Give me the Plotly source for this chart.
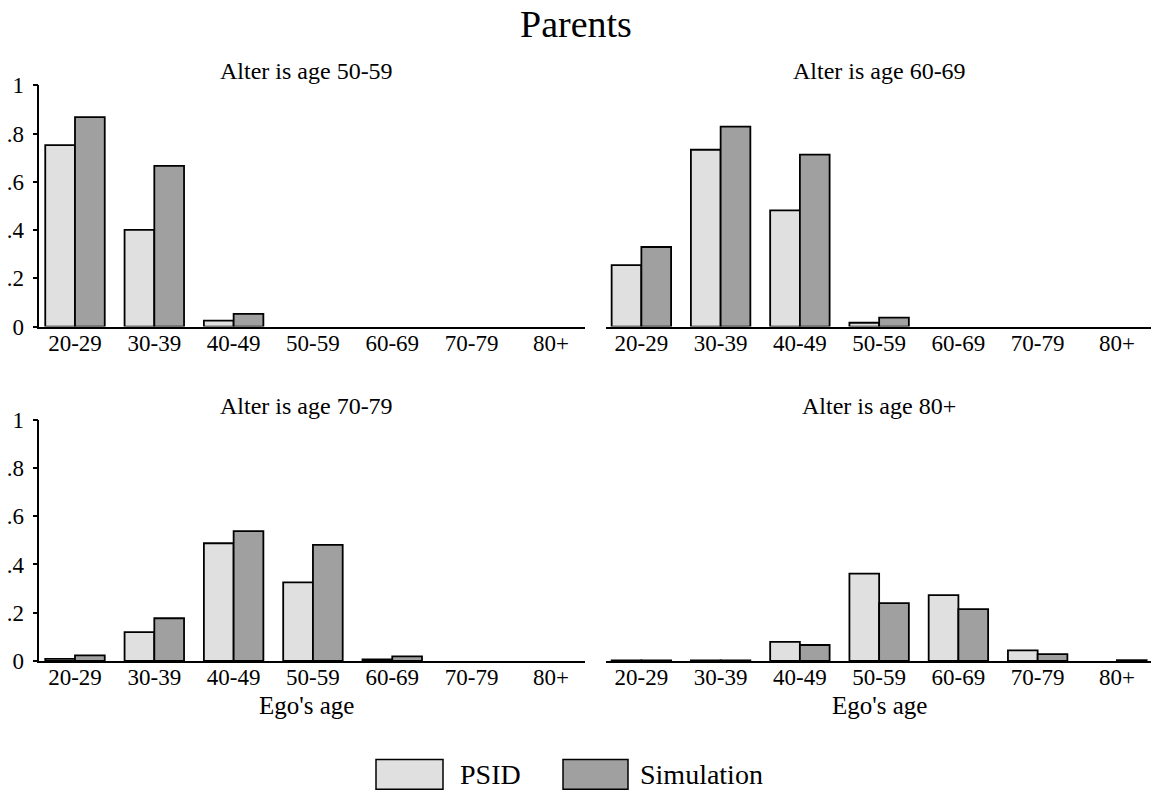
import plotly.graph_objects as go

age_groups = ["20-29", "30-39", "40-49", "50-59", "60-69", "70-79", "80+"]
panel_titles = ["Alter is age 50-59", "Alter is age 60-69", "Alter is age 70-79", "Alter is age 80+"]

psid_50_59 = [0.752, 0.401, 0.025, 0, 0, 0, 0]
sim_50_59 = [0.868, 0.666, 0.053, 0, 0, 0, 0]
psid_60_69 = [0.255, 0.733, 0.482, 0.016, 0, 0, 0]
sim_60_69 = [0.330, 0.829, 0.713, 0.037, 0, 0, 0]
psid_70_79 = [0.008, 0.119, 0.488, 0.326, 0.006, 0, 0]
sim_70_79 = [0.023, 0.177, 0.538, 0.481, 0.019, 0, 0]
psid_80p = [0.002, 0.002, 0.079, 0.362, 0.273, 0.044, 0]
sim_80p = [0.002, 0.002, 0.066, 0.240, 0.215, 0.028, 0.003]

y_tick_vals = [0, 0.2, 0.4, 0.6, 0.8, 1]
y_tick_text = ["0", ".2", ".4", ".6", ".8", "1"]

series_names = ["PSID", "Simulation"]
series_colors = ["#e0e0e0", "#a0a0a0"]

W, H = 1151, 804
FONT = "Liberation Serif, Times New Roman, serif"


def fx(px):
    return px / W


def fy(py):
    # empirical correction for vertical placement
    py = (py - 13) / 0.971
    return 1 - py / H


x_dom_px = [(39.3, 585.0), (605.7, 1151.0)]
y_dom_px = [(86.5, 328.3), (421.7, 663.3)]
title_dx = [-6, 1]

panels = [
    (psid_50_59, sim_50_59, 0, 0),
    (psid_60_69, sim_60_69, 0, 1),
    (psid_70_79, sim_70_79, 1, 0),
    (psid_80p, sim_80p, 1, 1),
]

fig = go.Figure()
layout_axes = {}
annotations = []
for i, (ps, sm, r, c) in enumerate(panels):
    n = i + 1
    xa = "x" if n == 1 else f"x{n}"
    ya = "y" if n == 1 else f"y{n}"
    for vals, name, col in zip([ps, sm], series_names, series_colors):
        fig.add_trace(go.Bar(
            x=age_groups, y=[v if v else None for v in vals], name=name,
            xaxis=xa, yaxis=ya,
            marker=dict(color=col, line=dict(color="black", width=1.8)),
            showlegend=False, offsetgroup=name,
        ))
    x0, x1 = x_dom_px[c]
    ytop, ybot = y_dom_px[r]
    layout_axes["xaxis" if n == 1 else f"xaxis{n}"] = dict(
        domain=[fx(x0), fx(x1)], anchor=ya, type="category",
        categoryorder="array", categoryarray=age_groups,
        range=[-0.45, 6.43], showline=True, linecolor="black", linewidth=1.5,
        ticks="", showgrid=False, zeroline=False,
        tickfont=dict(family=FONT, size=23, color="black"),
        ticklabelstandoff=-5,
    )
    layout_axes["yaxis" if n == 1 else f"yaxis{n}"] = dict(
        domain=[fy(ybot), fy(ytop)], anchor=xa, range=[0, 1],
        showline=(c == 0), linecolor="black", linewidth=1.5,
        ticks="outside" if c == 0 else "", ticklen=5, tickwidth=1.5, tickcolor="black",
        tickvals=y_tick_vals, ticktext=y_tick_text,
        showticklabels=(c == 0), showgrid=False, zeroline=False,
        tickfont=dict(family=FONT, size=23, color="black"),
        ticklabelstandoff=4,
    )
    cx = (x0 + x1) / 2 + title_dx[c]
    annotations.append(dict(
        text=panel_titles[i], x=fx(cx), y=fy(ytop - 14),
        xref="paper", yref="paper", showarrow=False, xanchor="center", yanchor="middle",
        font=dict(family=FONT, size=24, color="black"),
    ))
    if r == 1:
        annotations.append(dict(
            text="Ego's age", x=fx(cx), y=fy(ybot + 45),
            xref="paper", yref="paper", showarrow=False, xanchor="center", yanchor="middle",
            font=dict(family=FONT, size=25, color="black"),
        ))

annotations.append(dict(
    text="Parents", x=0.5, y=fy(25), xref="paper", yref="paper", showarrow=False,
    xanchor="center", yanchor="middle", font=dict(family=FONT, size=38, color="black"),
))

shapes = []
legend_boxes = [(376, 443), (563, 628)]
legend_text_x = [458, 638]
ly0, ly1 = 762, 792
for (bx0, bx1), tx, name, col in zip(legend_boxes, legend_text_x, series_names, series_colors):
    shapes.append(dict(type="rect", xref="paper", yref="paper",
                       x0=fx(bx0), x1=fx(bx1), y0=fy(ly1), y1=fy(ly0),
                       fillcolor=col, line=dict(color="black", width=1.5)))
    annotations.append(dict(
        text=name, x=fx(tx), y=fy((ly0 + ly1) / 2), xref="paper", yref="paper",
        showarrow=False, xanchor="left", yanchor="middle",
        font=dict(family=FONT, size=28, color="black"),
    ))

fig.update_layout(
    width=W, height=H, margin=dict(l=0, r=0, t=0, b=0),
    paper_bgcolor="white", plot_bgcolor="white",
    barmode="group", bargap=0.25, bargroupgap=0,
    annotations=annotations, shapes=shapes,
    font=dict(family=FONT, color="black"),
    **layout_axes,
)

fig.write_html("out.html")
